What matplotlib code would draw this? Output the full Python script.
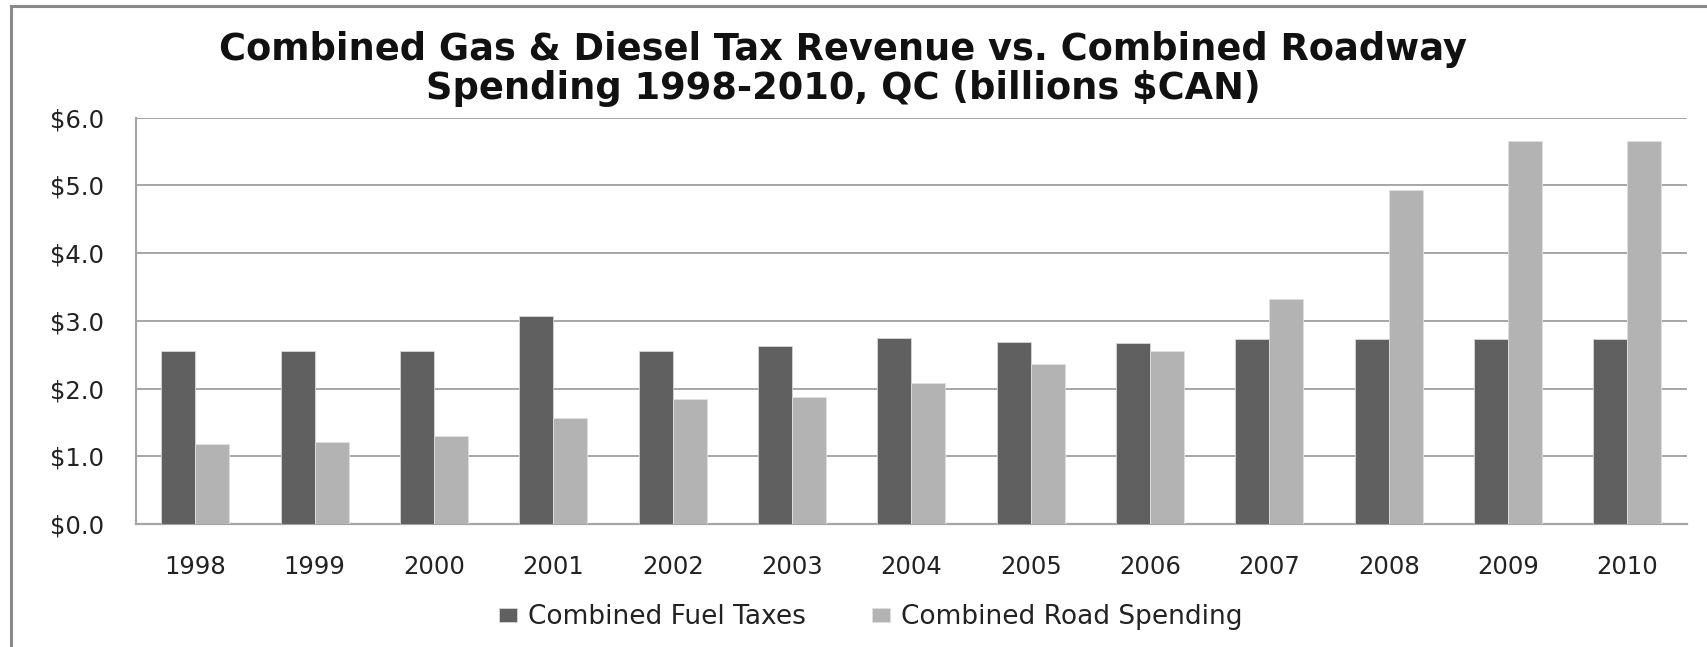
import matplotlib.pyplot as plt
import matplotlib.patches as mpatches
import numpy as np

# data (billions $CAN)
years = ["1998", "1999", "2000", "2001", "2002", "2003", "2004",
         "2005", "2006", "2007", "2008", "2009", "2010"]
fuel_taxes = [2.56, 2.56, 2.56, 3.07, 2.56, 2.63, 2.75, 2.69, 2.67, 2.74, 2.74, 2.74, 2.74]
road_spending = [1.18, 1.21, 1.30, 1.56, 1.84, 1.88, 2.09, 2.37, 2.56, 3.32, 4.93, 5.65, 5.65]
y_ticks = [0, 1, 2, 3, 4, 5, 6]

title = ("Combined Gas & Diesel Tax Revenue vs. Combined Roadway\n"
         "Spending 1998-2010, QC (billions $CAN)")

dark = "#606060"
light = "#b3b3b3"
grid_col = "#a6a6a6"

plt.rcParams['font.family'] = ['DejaVu Sans']

fig = plt.figure(figsize=(17.07, 6.47), dpi=100)
ax = fig.add_axes([0.0795, 0.190, 0.9088, 0.628])

# outer chart border (left and top edges visible)
fig.patches.append(mpatches.Rectangle((11 / 1707, -0.1), 1.2, 1 - 6 / 647 + 0.1,
                                      transform=fig.transFigure, fill=False,
                                      edgecolor="#8a8a8a", linewidth=2.2))

x = np.arange(len(years))
w = 0.285
ax.bar(x - w / 2, fuel_taxes, w, color=dark, edgecolor="#d6d6d6", linewidth=0.6,
       label="Combined Fuel Taxes", zorder=3)
ax.bar(x + w / 2, road_spending, w, color=light, edgecolor="#e0e0e0", linewidth=0.6,
       label="Combined Road Spending", zorder=3)

ax.set_xlim(-0.5, len(years) - 0.5)
ax.set_ylim(0, 6)
ax.set_yticks(y_ticks)
ax.set_yticklabels(["${:.1f}".format(v) for v in y_ticks])
ax.set_xticks(x)
ax.set_xticklabels(years)
ax.tick_params(axis='both', length=0, labelsize=17.5, colors="#222222")
ax.tick_params(axis='y', pad=23)
ax.tick_params(axis='x', pad=22)

ax.grid(axis='y', color=grid_col, linewidth=1.4, zorder=0)
for side in ['top', 'right']:
    ax.spines[side].set_visible(False)
for side in ['left', 'bottom']:
    ax.spines[side].set_color(grid_col)
    ax.spines[side].set_linewidth(1.6)

fig.text(0.494, 0.893, title, ha='center', va='center', multialignment='center',
         fontsize=26.5, fontweight='bold', linespacing=1.08, color="#111111")

fig.legend(loc='center', bbox_to_anchor=(0.51, 0.046), ncol=2, frameon=False,
           fontsize=19, handlelength=0.68, handleheight=0.45, handletextpad=0.42,
           columnspacing=2.5, labelcolor="#222222")

fig.savefig("out.png", dpi=100)
